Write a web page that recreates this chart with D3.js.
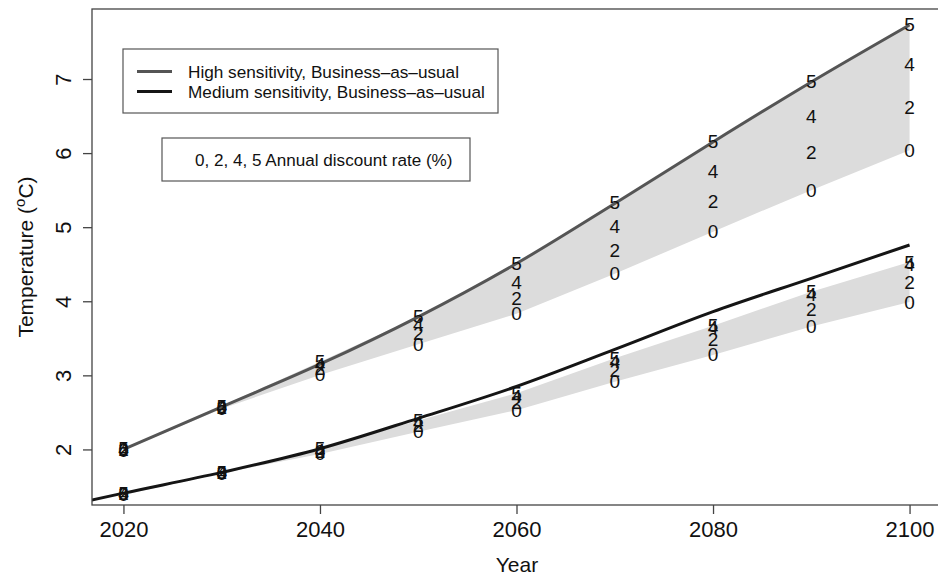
<!DOCTYPE html>
<html>
<head>
<meta charset="utf-8">
<script src="https://cdn.jsdelivr.net/npm/d3@7"></script>
<style>
  html, body { margin: 0; padding: 0; background: #fff; }
  text { font-family: "Liberation Sans", Arial, Helvetica, sans-serif; fill: #111; }
</style>
</head>
<body>
<svg id="chart" width="938" height="575"></svg>
<script>
// ---- data ----
const years = [2020, 2030, 2040, 2050, 2060, 2070, 2080, 2090, 2100];
const medLineYears = [2010, 2020, 2030, 2040, 2050, 2060, 2070, 2080, 2090, 2100];

const highBAU = [2.00, 2.575, 3.15, 3.79, 4.51, 5.32, 6.15, 6.96, 7.73];
const medBAU  = [1.12, 1.41, 1.69, 2.01, 2.42, 2.85, 3.35, 3.86, 4.31, 4.76];

const rates = ["0", "2", "4", "5"];
const high0 = [1.99, 2.55, 3.005, 3.42, 3.83, 4.37, 4.94, 5.50, 6.04];
const high2 = [2.00, 2.565, 3.09, 3.57, 4.04, 4.68, 5.34, 6.01, 6.61];
const high4 = [2.005, 2.575, 3.14, 3.68, 4.25, 5.01, 5.75, 6.49, 7.19];
const high5 = [2.01, 2.585, 3.185, 3.79, 4.51, 5.33, 6.15, 6.96, 7.73];

const med0 = [1.39, 1.68, 1.94, 2.24, 2.53, 2.915, 3.275, 3.66, 3.99];
const med2 = [1.40, 1.685, 1.97, 2.32, 2.64, 3.07, 3.49, 3.89, 4.26];
const med4 = [1.40, 1.69, 1.99, 2.36, 2.72, 3.19, 3.64, 4.085, 4.50];
const med5 = [1.41, 1.695, 2.01, 2.39, 2.76, 3.23, 3.67, 4.13, 4.53];

const xTicks = [2020, 2040, 2060, 2080, 2100];
const yTicks = [2, 3, 4, 5, 6, 7];

const legendLabels = ["High sensitivity, Business\u2013as\u2013usual", "Medium sensitivity, Business\u2013as\u2013usual"];
const rateLegend = "0, 2, 4, 5 Annual discount rate (%)";

// ---- layout ----
const svg = d3.select("#chart");
const L = 92, T = 9, R = 941, B = 505;
const x = d3.scaleLinear().domain([2016.8, 2103.2]).range([L, R]);
const y = d3.scaleLinear().domain([1.25, 7.945]).range([B, T]);

svg.append("defs").append("clipPath").attr("id", "plotclip")
  .append("rect").attr("x", L).attr("y", T).attr("width", R - L).attr("height", B - T);

const plot = svg.append("g").attr("clip-path", "url(#plotclip)");

// bands between 0% and 5% series
function band(lo, hi) {
  const pts = years.map((yr, i) => ({yr, lo: lo[i], hi: hi[i]}));
  return d3.area().x(d => x(d.yr)).y0(d => y(d.lo)).y1(d => y(d.hi))(pts);
}
plot.append("path").attr("d", band(high0, high5)).attr("fill", "#dcdcdc");
plot.append("path").attr("d", band(med0, med5)).attr("fill", "#dcdcdc");

const line = d3.line().curve(d3.curveMonotoneX).x(d => x(d[0])).y(d => y(d[1]));
plot.append("path").attr("d", line(years.map((yr, i) => [yr, highBAU[i]])))
  .attr("fill", "none").attr("stroke", "#555").attr("stroke-width", 3);
plot.append("path").attr("d", line(medLineYears.map((yr, i) => [yr, medBAU[i]])))
  .attr("fill", "none").attr("stroke", "#151515").attr("stroke-width", 3);

// rate labels
const labFont = 19;
function addLabels(series, label) {
  years.forEach((yr, i) => {
    plot.append("text").attr("x", x(yr)).attr("y", y(series[i]))
      .attr("text-anchor", "middle").attr("dominant-baseline", "central")
      .attr("font-size", labFont).text(label);
  });
}
[[high0, "0"], [high2, "2"], [high4, "4"], [high5, "5"]].forEach(([s, l]) => addLabels(s, l));
[[med0, "0"], [med2, "2"], [med4, "4"], [med5, "5"]].forEach(([s, l]) => addLabels(s, l));

// frame
svg.append("rect").attr("x", L).attr("y", T).attr("width", R - L).attr("height", B - T)
  .attr("fill", "none").attr("stroke", "#444").attr("stroke-width", 1.3);

// x axis
const xAxis = svg.append("g").attr("transform", `translate(0,${B})`)
  .call(d3.axisBottom(x).tickValues(xTicks).tickFormat(d3.format("d")).tickSize(9).tickPadding(7));
xAxis.select(".domain").remove();
xAxis.selectAll("line").attr("stroke", "#444").attr("stroke-width", 1.3);
xAxis.selectAll("text").attr("font-size", 22).attr("font-family", "Liberation Sans, Arial, sans-serif").attr("fill", "#111");

// y axis
const yAxis = svg.append("g").attr("transform", `translate(${L},0)`)
  .call(d3.axisLeft(y).tickValues(yTicks).tickFormat(d3.format("d")).tickSize(9).tickPadding(0));
yAxis.select(".domain").remove();
yAxis.selectAll("line").attr("stroke", "#444").attr("stroke-width", 1.3);
yAxis.selectAll("text")
  .attr("font-size", 22).attr("font-family", "Liberation Sans, Arial, sans-serif").attr("fill", "#111")
  .attr("text-anchor", "middle").attr("dy", null).attr("x", null)
  .attr("transform", "translate(-29,0) rotate(-90)")
  .attr("dominant-baseline", "central");

// axis titles
svg.append("text").attr("x", 517).attr("y", 572).attr("text-anchor", "middle")
  .attr("font-size", 21).text("Year");
const yt = svg.append("text").attr("transform", `translate(33,${(T + B) / 2}) rotate(-90)`)
  .attr("text-anchor", "middle").attr("font-size", 21);
yt.append("tspan").text("Temperature (");
yt.append("tspan").attr("font-size", 15).attr("dy", -8).text("o");
yt.append("tspan").attr("dy", 8).text("C)");

// legend 1
const lg = svg.append("g");
lg.append("rect").attr("x", 123).attr("y", 49).attr("width", 375).attr("height", 64)
  .attr("fill", "#fff").attr("stroke", "#555").attr("stroke-width", 1.2);
const legColors = ["#555", "#151515"];
legendLabels.forEach((t, i) => {
  const yy = 71.5 + i * 20;
  lg.append("line").attr("x1", 137).attr("x2", 172).attr("y1", yy).attr("y2", yy)
    .attr("stroke", legColors[i]).attr("stroke-width", 3);
  lg.append("text").attr("x", 188).attr("y", yy).attr("dominant-baseline", "central")
    .attr("font-size", 17.2).text(t);
});

// legend 2
lg.append("rect").attr("x", 162).attr("y", 138).attr("width", 308).attr("height", 43)
  .attr("fill", "#fff").attr("stroke", "#555").attr("stroke-width", 1.2);
lg.append("text").attr("x", 195).attr("y", 160).attr("dominant-baseline", "central")
  .attr("font-size", 17.1).text(rateLegend);
</script>
</body>
</html>
